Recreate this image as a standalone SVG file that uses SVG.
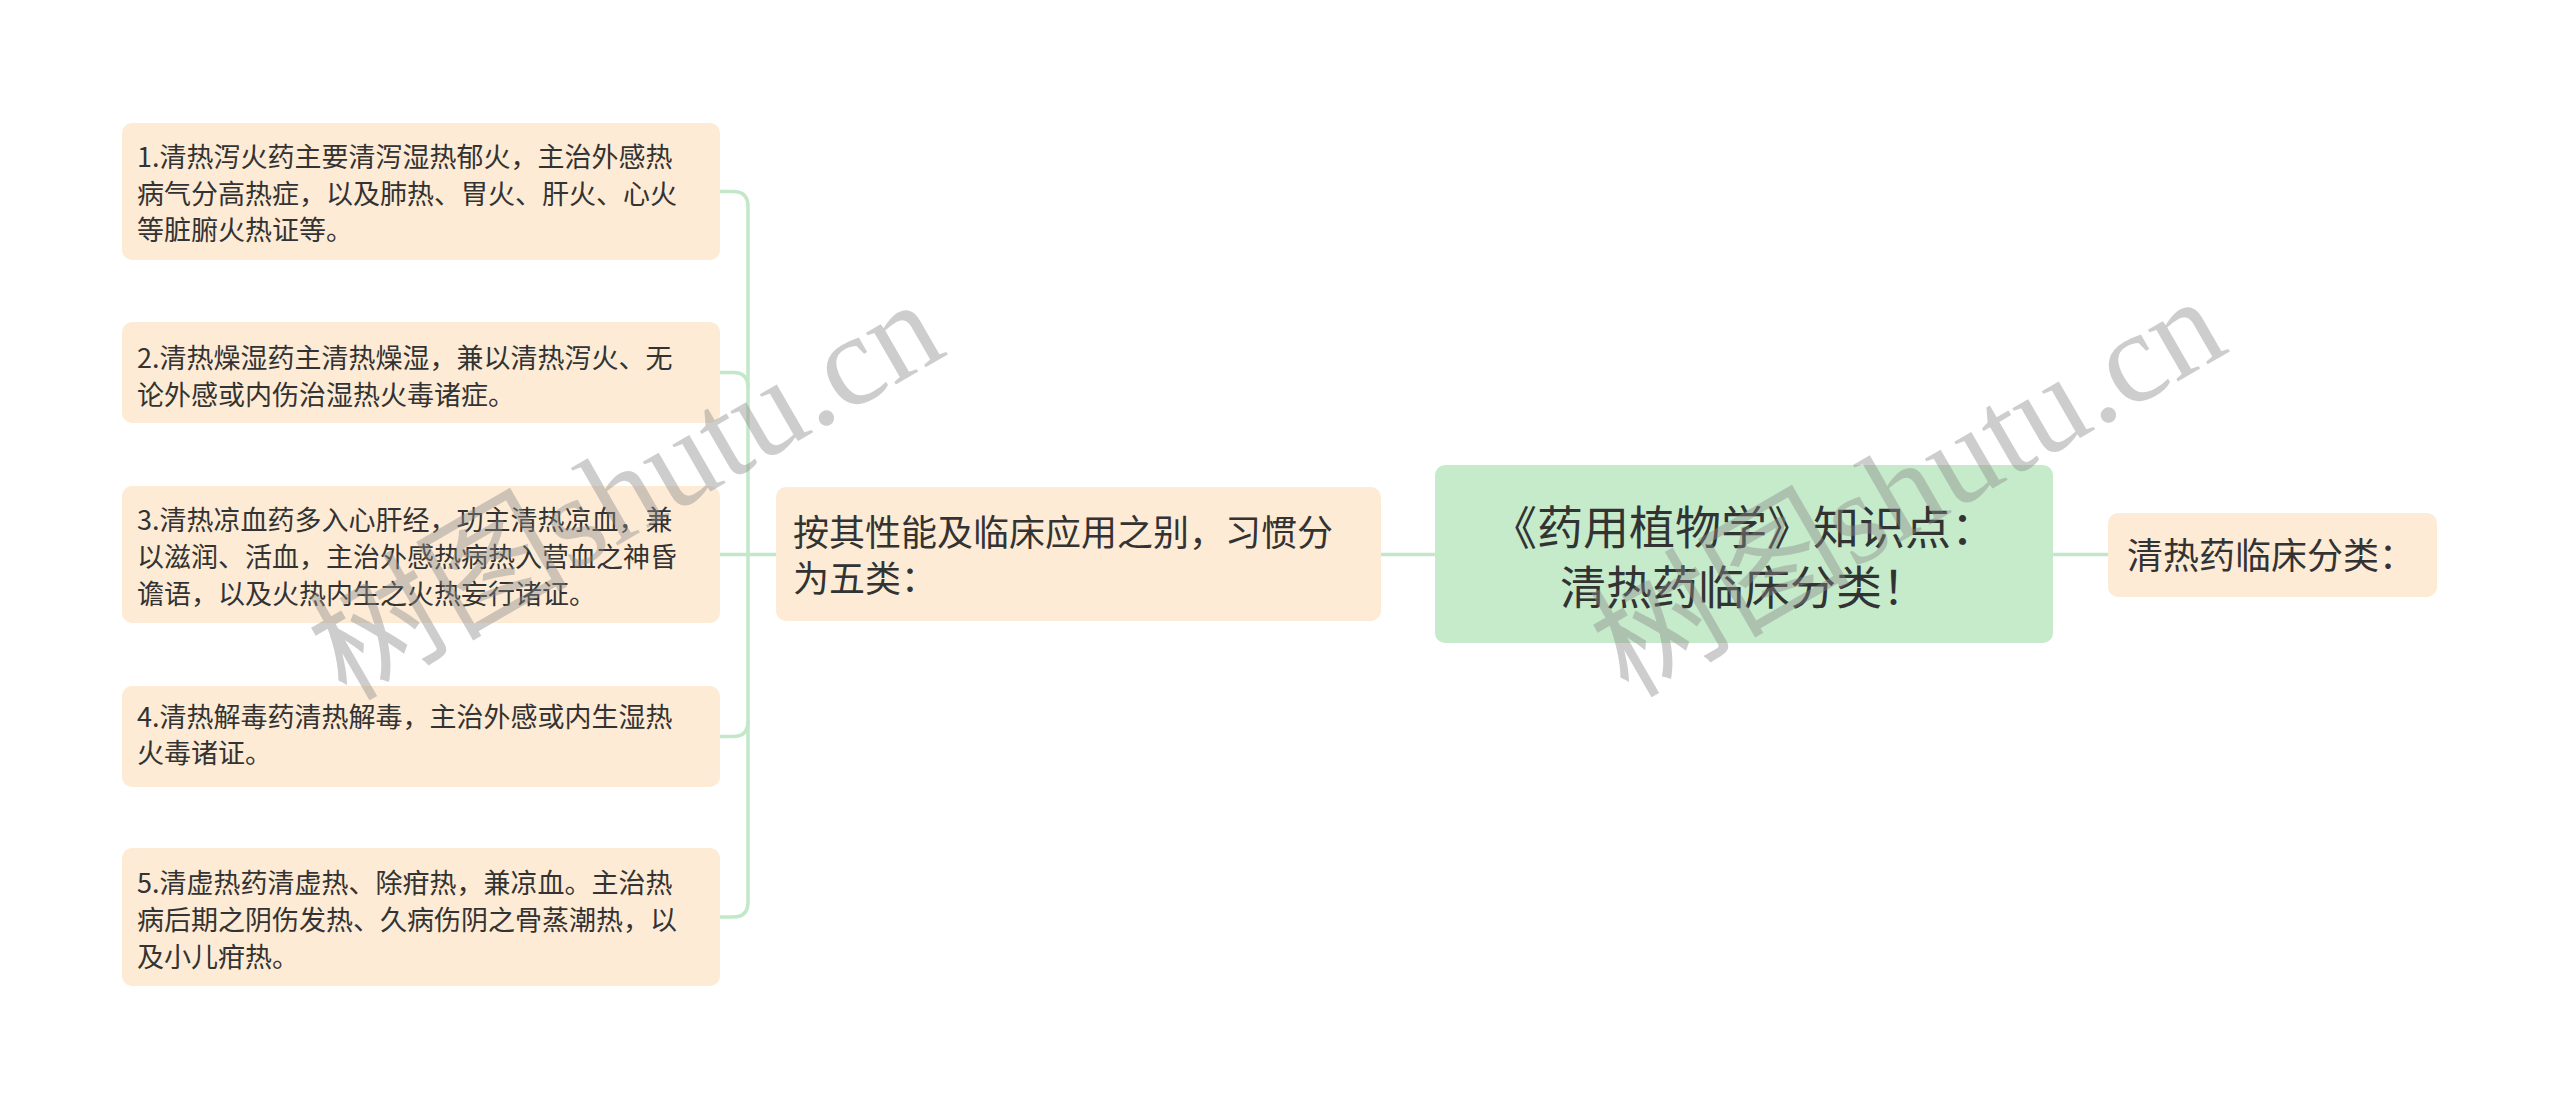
<svg xmlns="http://www.w3.org/2000/svg" width="2560" height="1109" viewBox="0 0 2560 1109">
<style>
.leaf{fill:#fdebd5;}
.root{fill:#c5ebcb;}
.t{font-family:"Noto Sans CJK SC","Noto Sans",sans-serif;fill:#333333;}
.t27{font-size:27px;}
.t36{font-size:36px;}
.t45{font-size:46px;}
.conn{fill:none;stroke:#c2e7c9;stroke-width:3.5;stroke-linecap:round;}
.wm{font-family:"Liberation Serif","Noto Sans CJK SC",serif;font-size:130px;fill:#8a8a8a;opacity:0.42;}
</style>
<rect width="2560" height="1109" fill="#ffffff"/>
<g id="connectors">
<path class="conn" d="M1381,554.5 H1435"/>
<path class="conn" d="M2053,554.5 H2108"/>
<path class="conn" d="M776,554.5 H720"/>
<path class="conn" d="M720,191.5 H733 Q748,191.5 748,206.5 V902 Q748,917 733,917 H720"/>
<path class="conn" d="M720,372.5 H733 Q748,372.5 748,387.5"/>
<path class="conn" d="M720,736.5 H733 Q748,736.5 748,721.5"/>
</g>
<g id="root">
<rect class="root" x="1435" y="465" width="618" height="178" rx="10"/>
<text class="t t45" x="1744" y="544" text-anchor="middle">《药用植物学》知识点：</text>
<text class="t t45" x="1744" y="604" text-anchor="middle">清热药临床分类！</text>
</g>
<g id="node-right">
<rect class="leaf" x="2108" y="513" width="329" height="84" rx="10"/>
<text class="t t36" x="2127" y="569">清热药临床分类：</text>
</g>
<g id="node-middle">
<rect class="leaf" x="776" y="487" width="605" height="134" rx="10"/>
<text class="t t36" x="793" y="546">按其性能及临床应用之别，习惯分</text>
<text class="t t36" x="793" y="592">为五类：</text>
</g>
<g id="leaf1">
<rect class="leaf" x="122" y="123" width="598" height="137" rx="10"/>
<text class="t t27" x="137" y="167">1.清热泻火药主要清泻湿热郁火，主治外感热</text>
<text class="t t27" x="137" y="203.5">病气分高热症，以及肺热、胃火、肝火、心火</text>
<text class="t t27" x="137" y="240">等脏腑火热证等。</text>
</g>
<g id="leaf2">
<rect class="leaf" x="122" y="322" width="598" height="101" rx="10"/>
<text class="t t27" x="137" y="368">2.清热燥湿药主清热燥湿，兼以清热泻火、无</text>
<text class="t t27" x="137" y="405">论外感或内伤治湿热火毒诸症。</text>
</g>
<g id="leaf3">
<rect class="leaf" x="122" y="486" width="598" height="137" rx="10"/>
<text class="t t27" x="137" y="530">3.清热凉血药多入心肝经，功主清热凉血，兼</text>
<text class="t t27" x="137" y="567">以滋润、活血，主治外感热病热入营血之神昏</text>
<text class="t t27" x="137" y="603.5">谵语，以及火热内生之火热妄行诸证。</text>
</g>
<g id="leaf4">
<rect class="leaf" x="122" y="686" width="598" height="101" rx="10"/>
<text class="t t27" x="137" y="727">4.清热解毒药清热解毒，主治外感或内生湿热</text>
<text class="t t27" x="137" y="763">火毒诸证。</text>
</g>
<g id="leaf5">
<rect class="leaf" x="122" y="848" width="598" height="138" rx="10"/>
<text class="t t27" x="137" y="893">5.清虚热药清虚热、除疳热，兼凉血。主治热</text>
<text class="t t27" x="137" y="930">病后期之阴伤发热、久病伤阴之骨蒸潮热，以</text>
<text class="t t27" x="137" y="967">及小儿疳热。</text>
</g>
<g id="watermark">
<text class="wm" transform="translate(346,702) rotate(-30)">树图shutu.cn</text>
<text class="wm" transform="translate(1628,699) rotate(-30)">树图shutu.cn</text>
</g>
</svg>
